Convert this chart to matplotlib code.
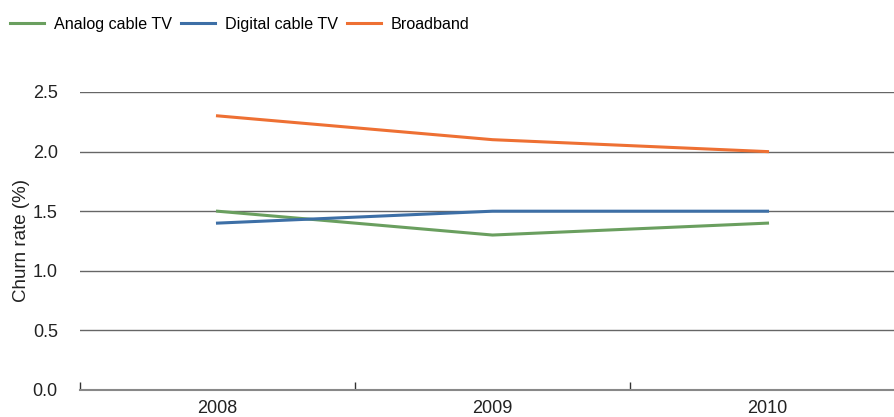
import numpy as np
import matplotlib.pyplot as plt
from matplotlib.ticker import FixedLocator

plt.rcParams['font.family'] = ['Liberation Sans', 'DejaVu Sans']

# Churn rate by service, per year
years = ['2008', '2009', '2010']
analog = [1.5, 1.3, 1.4]
digital = [1.4, 1.5, 1.5]
broadband = [2.3, 2.1, 2.0]

fig = plt.figure(figsize=(8.95, 4.17), dpi=100)
ax = fig.add_axes([80/895, 27/417, 825/895, 298/417])

x = np.arange(len(years))
ax.plot(x, analog, color='#6a9f5f', lw=2.2, label='Analog cable TV')
ax.plot(x, digital, color='#3d6fa6', lw=2.2, label='Digital cable TV')
ax.plot(x, broadband, color='#ee7033', lw=2.2, label='Broadband')

ax.set_xlim(-0.5, 2.5)
ax.set_ylim(0, 2.5)
ax.set_yticks(np.arange(0, 2.51, 0.5))
ax.set_yticklabels(['%.1f' % v for v in np.arange(0, 2.51, 0.5)], fontsize=13, color='#222222')
ax.set_xticks(x)
ax.set_xticklabels(years, fontsize=13, color='#222222')
ax.xaxis.set_minor_locator(FixedLocator([-0.5, 0.5, 1.5]))
ax.tick_params(axis='x', which='major', length=0, pad=7)
ax.tick_params(axis='x', which='minor', direction='in', length=6, width=1, color='#333333')
ax.tick_params(axis='y', length=0, pad=16)

ax.grid(axis='y', color='#666666', lw=1)
ax.set_axisbelow(True)
for s in ['top', 'right', 'left']:
    ax.spines[s].set_visible(False)
ax.spines['bottom'].set_color('#888888')
ax.spines['bottom'].set_linewidth(1.5)

ax.set_ylabel('Churn rate (%)', fontsize=13.5, color='#222222')
ax.yaxis.set_label_coords(-50/825, 0.5)

fig.legend(loc='upper left', bbox_to_anchor=(-0.005, 0.995), ncol=3, frameon=False,
           fontsize=11.6, handlelength=2.1, handletextpad=0.6, columnspacing=0.6)

fig.savefig('out.png', dpi=100)
